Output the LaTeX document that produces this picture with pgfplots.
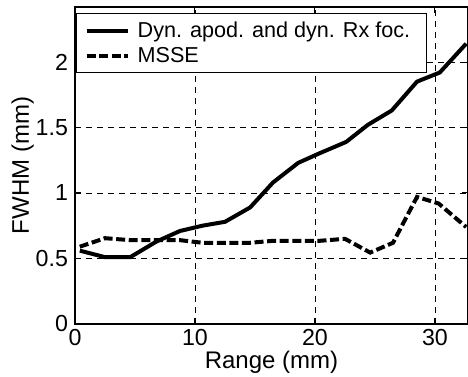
\documentclass[border=0pt]{standalone}
\usepackage{pgfplots}
\pgfplotsset{compat=1.18}
\usepackage{fontspec}
\setmainfont{Liberation Sans}
\begin{document}
\begin{tikzpicture}
\begin{axis}[
  name=ax,
  scale only axis,
  width=196.5pt, height=158.5pt,
  xmin=0, xmax=32.75, ymin=0, ymax=2.42,
  xtick={0,10,20,30}, ytick={0,0.5,1,1.5,2},
  /pgf/number format/assume math mode=true,
  tick label style={font=\fontsize{11.6}{13}\selectfont},
  xticklabel style={yshift=1pt},
  label style={font=\fontsize{12}{14}\selectfont},
  xlabel={Range (mm)}, ylabel={FWHM (mm)},
  xlabel style={yshift=3.8pt},
  ylabel style={yshift=-6pt},
  grid=major,
  major grid style={black, line width=0.4pt, dash pattern=on 3pt off 2.5pt},
  axis line style={line width=0.6pt},
  tick style={black, line width=0.5pt},
  major tick length=3pt,
  tick align=inside,
  legend cell align=left,
  legend style={at={(0.003,0.98)}, anchor=north west, draw=black, line width=0.5pt,
    font=\fontsize{10.8}{13}\selectfont, inner xsep=4pt, inner ysep=2pt, row sep=0pt,
    nodes={inner xsep=4pt, inner ysep=1.8pt}},
  legend image code/.code={\draw[#1] (0pt,0pt) -- (20.5pt,0pt);},
]
\addplot[black, line width=2pt] coordinates {
(0.4,0.56) (2.5,0.51) (4.6,0.51) (6.8,0.63) (8.75,0.71) (10.6,0.75) (12.5,0.78)
(14.6,0.89) (16.5,1.08) (18.6,1.23) (20.3,1.30) (22.6,1.39) (24.4,1.52)
(26.4,1.63) (28.5,1.85) (30.4,1.92) (32.6,2.14)
};
\addlegendentry{Dyn. apod. and dyn. Rx foc.}
\addplot[black, line width=2pt, dash pattern=on 4.5pt off 1.8pt] coordinates {
(0.4,0.59) (2.5,0.655) (4.6,0.64) (6.8,0.64) (8.75,0.64) (10.6,0.62) (12.5,0.62)
(14.6,0.62) (16.5,0.635) (18.6,0.635) (20.4,0.635) (22.5,0.65) (24.6,0.545)
(26.5,0.62) (28.5,0.97) (30.3,0.92) (32.6,0.74)
};
\addlegendentry{MSSE}
\end{axis}
\pgfresetboundingbox
\useasboundingbox ([xshift=-37.5pt,yshift=-26.5pt]ax.south west) rectangle ([yshift=3.5pt]ax.north east);
\end{tikzpicture}
\end{document}
